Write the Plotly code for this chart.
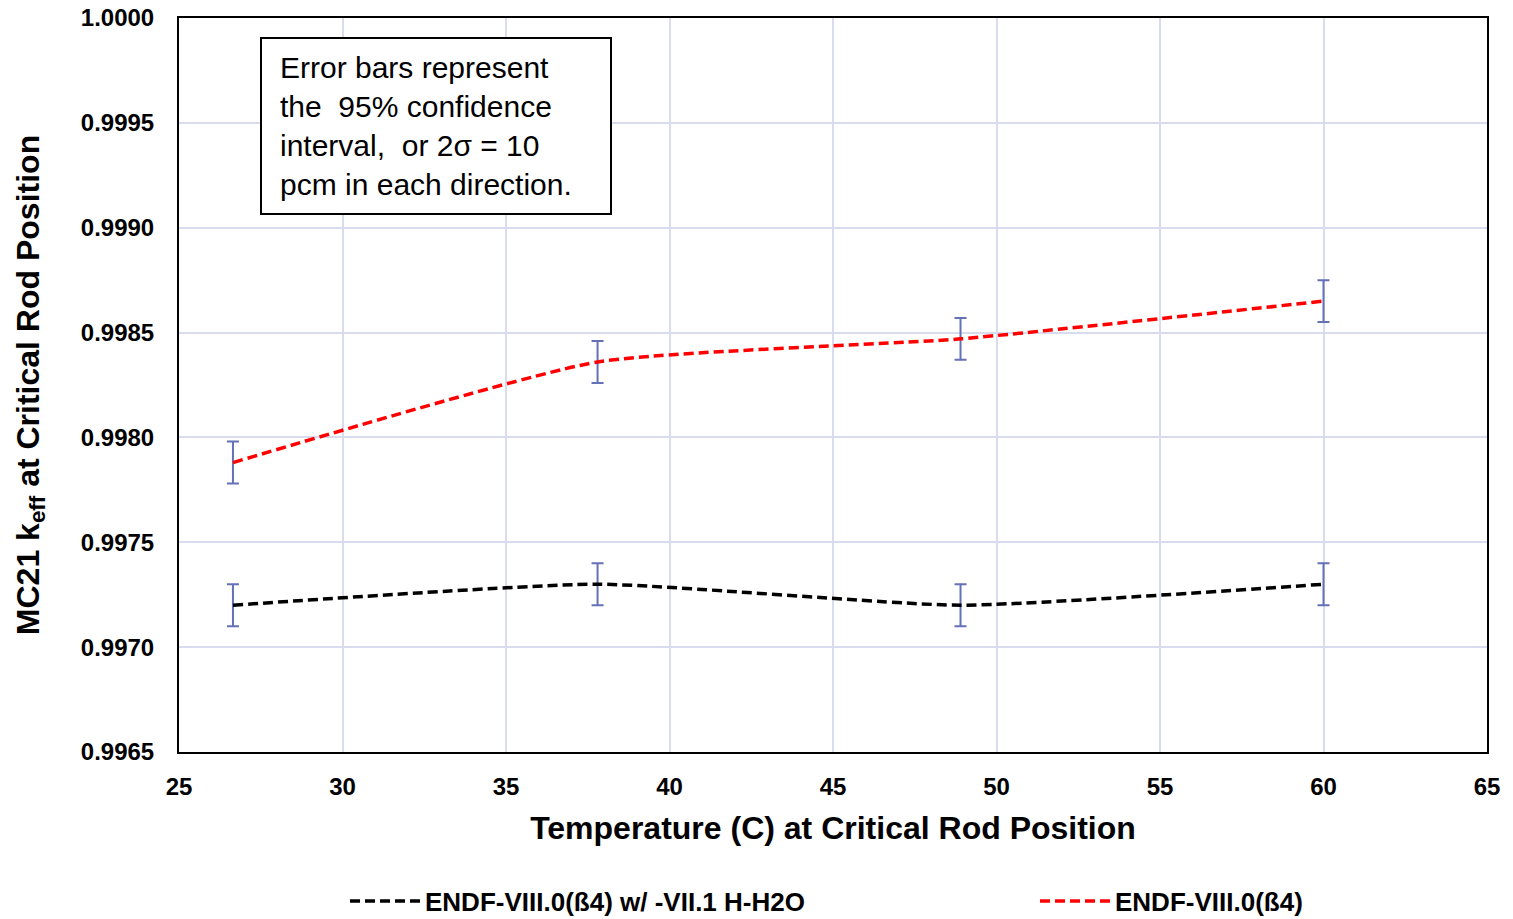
import plotly.graph_objects as go

# Temperatures (C) at the critical rod position
temperature = [26.65, 37.8, 48.9, 60.0]

# MC21 k-eff results for each library
keff_h2o_vii1 = [0.99720, 0.99730, 0.99720, 0.99730]
keff_endf8 = [0.99788, 0.99836, 0.99847, 0.99865]

# 2-sigma uncertainty (10 pcm)
err_2sigma = [0.00010, 0.00010, 0.00010, 0.00010]

series_names = ["ENDF-VIII.0(ß4) w/ -VII.1 H-H2O", "ENDF-VIII.0(ß4)"]

x_ticks = [25, 30, 35, 40, 45, 50, 55, 60, 65]
y_ticks = [0.9965, 0.9970, 0.9975, 0.9980, 0.9985, 0.9990, 0.9995, 1.0000]

FONT = "Liberation Sans, Arial, sans-serif"
ERR_COLOR = "#6470B8"
GRID_COLOR = "#D9DBEE"

# plot-area geometry in pixels (used to place the note and legends in paper units)
PL, PR, PT, PB = 179, 1487, 18, 752
def px_x(px):
    return (px - PL) / (PR - PL)
def px_y(py):
    return 1 - (py - PT) / (PB - PT)

fig = go.Figure()

for name, vals, color, leg in [
    (series_names[0], keff_h2o_vii1, "#000000", "legend"),
    (series_names[1], keff_endf8, "#FF0000", "legend2"),
]:
    fig.add_trace(go.Scatter(
        x=temperature,
        y=vals,
        name=name,
        legend=leg,
        mode="lines",
        line=dict(color=color, width=3.5, dash="10px,5px", shape="spline", smoothing=0.5),
        error_y=dict(type="data", array=err_2sigma, visible=True,
                     color=ERR_COLOR, thickness=2, width=6),
    ))

fig.add_shape(
    type="rect", xref="paper", yref="paper",
    x0=px_x(261), x1=px_x(611), y0=px_y(214), y1=px_y(38),
    line=dict(color="black", width=2), fillcolor="white", layer="above",
)
fig.add_annotation(
    xref="paper", yref="paper",
    x=px_x(278), y=px_y(126),
    xanchor="left", yanchor="middle", align="left", showarrow=False,
    text="Error bars represent<br>the  95% confidence<br>interval,  or 2σ = 10<br>pcm in each direction.",
    font=dict(family=FONT, size=30, color="black"),
)

legend_font = dict(family=FONT, size=26, color="black", weight="bold")
legend_common = dict(orientation="h", xanchor="left", yanchor="middle",
                     itemwidth=70, font=legend_font, bgcolor="rgba(0,0,0,0)")

fig.update_layout(
    width=1513, height=919,
    margin=dict(l=PL, r=1513 - PR, t=PT, b=919 - PB, autoexpand=False),
    paper_bgcolor="white", plot_bgcolor="white",
    font=dict(family=FONT, color="black"),
    showlegend=True,
    legend=dict(x=px_x(345), y=px_y(901), **legend_common),
    legend2=dict(x=px_x(1035), y=px_y(901), **legend_common),
    xaxis=dict(
        range=[25, 65], tickvals=x_ticks, ticktext=[str(v) for v in x_ticks],
        showgrid=True, gridcolor=GRID_COLOR, gridwidth=2, zeroline=False,
        showline=True, linecolor="black", linewidth=2, mirror=True,
        ticks="", ticklabelstandoff=12,
        tickfont=dict(family=FONT, size=24, color="black", weight="bold"),
        title=dict(text="Temperature (C) at Critical Rod Position",
                   font=dict(family=FONT, size=32, color="black", weight="bold"),
                   standoff=18),
    ),
    yaxis=dict(
        range=[0.9965, 1.0], tickvals=y_ticks, ticktext=[f"{v:.4f}" for v in y_ticks],
        showgrid=True, gridcolor=GRID_COLOR, gridwidth=2, zeroline=False,
        showline=True, linecolor="black", linewidth=2, mirror=True,
        ticks="", ticklabelstandoff=18,
        tickfont=dict(family=FONT, size=24, color="black", weight="bold"),
        title=dict(text="MC21 k<sub>eff</sub> at Critical Rod Position",
                   font=dict(family=FONT, size=32, color="black", weight="bold"),
                   standoff=32),
    ),
)

fig.write_html("out.html")
